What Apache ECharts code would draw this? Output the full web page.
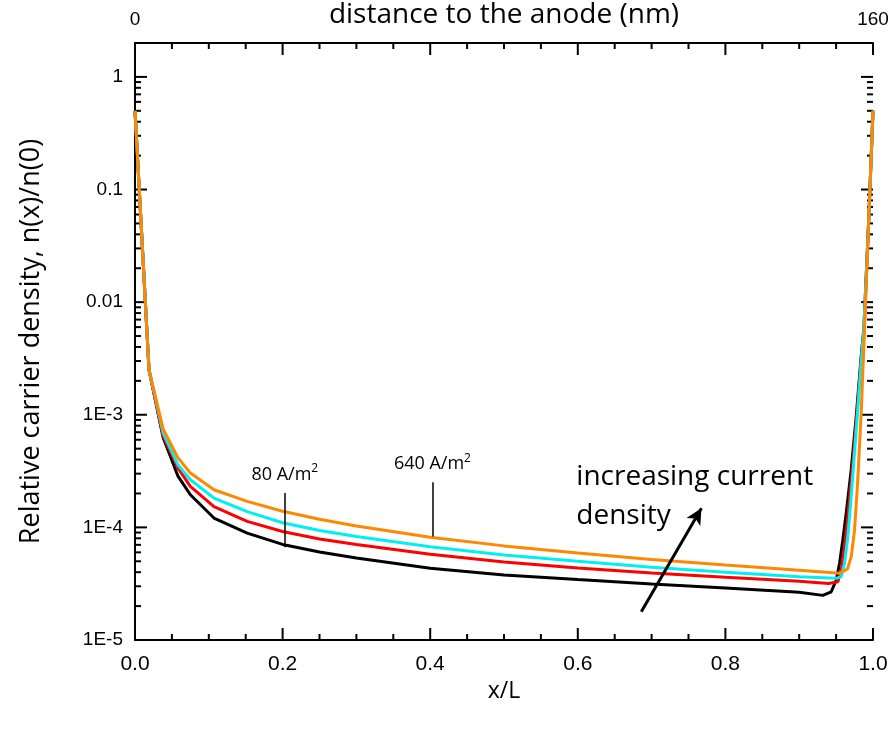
<!DOCTYPE html>
<html>
<head>
<meta charset="utf-8">
<script src="https://cdn.jsdelivr.net/npm/echarts@6/dist/echarts.min.js"></script>
<style>
  html, body { margin: 0; padding: 0; background: #fff; }
  #chart { width: 894px; height: 729px; }
</style>
</head>
<body>
<div id="chart"></div>
<script>
// shared x/L samples along the left part and the flat middle part
const xCommon = [0, 0.019, 0.038, 0.058, 0.075, 0.107, 0.152, 0.2, 0.25, 0.3, 0.4, 0.5, 0.6, 0.7, 0.8, 0.9];

// 80 A/m2 (black)
const xBlack = xCommon.concat([0.932, 0.9434, 0.9502, 0.9547, 0.9591, 0.9637, 0.9705, 0.9773, 0.984, 0.9875, 0.9945, 1.0]);
const yBlack = [0.5, 2.5e-3, 6.33e-4, 2.87e-4, 1.95e-4, 1.21e-4, 8.88e-5, 7.06e-5, 6.05e-5, 5.35e-5, 4.33e-5, 3.77e-5, 3.44e-5, 3.14e-5, 2.89e-5, 2.65e-5,
  2.49e-5, 2.68e-5, 3.41e-5, 4.8e-5, 7.74e-5, 1.34e-4, 3.25e-4, 9.7e-4, 3.32e-3, 5.7e-3, 0.06, 0.5];

// red
const xRed = xCommon.concat([0.94, 0.9524, 0.957, 0.9614, 0.9659, 0.9727, 0.9794, 0.9854, 0.988, 0.9945, 1.0]);
const yRed = [0.5, 2.5e-3, 6.53e-4, 3.39e-4, 2.31e-4, 1.53e-4, 1.13e-4, 9.2e-5, 7.9e-5, 7.06e-5, 5.77e-5, 4.93e-5, 4.36e-5, 3.93e-5, 3.6e-5, 3.32e-5,
  3.17e-5, 3.29e-5, 4.19e-5, 6.75e-5, 1.25e-4, 3.73e-4, 1.28e-3, 4.07e-3, 5.7e-3, 0.06, 0.5];

// cyan
const xCyan = xCommon.concat([0.95, 0.957, 0.9614, 0.9659, 0.9705, 0.9773, 0.984, 0.9875, 0.9945, 1.0]);
const yCyan = [0.5, 2.5e-3, 6.95e-4, 3.6e-4, 2.65e-4, 1.82e-4, 1.38e-4, 1.1e-4, 9.4e-5, 8.31e-5, 6.73e-5, 5.69e-5, 5.01e-5, 4.43e-5, 4.0e-5, 3.64e-5,
  3.53e-5, 3.65e-5, 4.8e-5, 8.28e-5, 1.88e-4, 7.38e-4, 2.9e-3, 5.7e-3, 0.06, 0.5];

// 640 A/m2 (orange)
const xOrange = xCommon.concat([0.955, 0.9654, 0.9705, 0.975, 0.9794, 0.984, 0.9885, 0.9945, 1.0]);
const yOrange = [0.5, 2.5e-3, 7.53e-4, 4.16e-4, 3.04e-4, 2.16e-4, 1.7e-4, 1.39e-4, 1.18e-4, 1.03e-4, 8.18e-5, 6.85e-5, 5.93e-5, 5.19e-5, 4.63e-5, 4.16e-5,
  3.92e-5, 4.27e-5, 5.5e-5, 9.5e-5, 2.65e-4, 1.04e-3, 5.7e-3, 0.06, 0.5];

// axis ticks
const xMajorTicks = [0, 0.2, 0.4, 0.6, 0.8, 1.0];
const xMinorTicks = [0.05, 0.1, 0.15, 0.25, 0.3, 0.35, 0.45, 0.5, 0.55, 0.65, 0.7, 0.75, 0.85, 0.9, 0.95];
const yMajorTicks = [1e-5, 1e-4, 1e-3, 0.01, 0.1, 1];
const yTickLabels = ['1E-5', '1E-4', '1E-3', '0.01', '0.1', '1'];
const yMinorTicks = [];
[1e-5, 1e-4, 1e-3, 1e-2, 1e-1].forEach(function (d) {
  for (let k = 2; k <= 9; k++) yMinorTicks.push(+(k * d).toPrecision(3));
});

// annotations
const label80 = { x: 0.203, y0: 6.67e-5, y1: 2.02e-4 };
const label640 = { x: 0.403, y0: 8.28e-5, y1: 2.51e-4 };
const arrowFrom = [0.686, 1.78e-5];
const arrowTo = [0.7675, 1.48e-4];
const textAt = [0.598, 1.88e-4];

const X_MIN = 0, X_MAX = 1, Y_MIN = 1e-5, Y_MAX = 2;

const FONT = '"Open Sans", "Noto Sans", sans-serif';
const NUMFONT = '"Liberation Sans", Arial, sans-serif';
const NARROW = '"Liberation Sans Narrow", "Arial Narrow", "Liberation Sans", sans-serif';

function pairs(xs, ys) {
  return xs.map(function (x, i) { return [x, ys[i]]; });
}

function yLabel(v) {
  for (let i = 0; i < yMajorTicks.length; i++) {
    if (Math.abs(Math.log10(v) - Math.log10(yMajorTicks[i])) < 1e-6) return yTickLabels[i];
  }
  return '';
}

const chart = echarts.init(document.getElementById('chart'));

function axisLine() { return { show: true, lineStyle: { color: '#000', width: 2 } }; }

const tickStyle = { stroke: '#000', lineWidth: 2 };

// inward ticks on both sides of the frame, placed through the axis scales
function xTickItem(params, api) {
  const v = api.value(0);
  const len = xMajorTicks.indexOf(v) >= 0 ? 12 : 6;
  const b = api.coord([v, Y_MIN]);
  const t = api.coord([v, Y_MAX]);
  return {
    type: 'group',
    children: [
      { type: 'line', shape: { x1: b[0], y1: b[1], x2: b[0], y2: b[1] - len }, style: tickStyle },
      { type: 'line', shape: { x1: t[0], y1: t[1], x2: t[0], y2: t[1] + len }, style: tickStyle }
    ]
  };
}

function yTickItem(params, api) {
  const v = api.value(1);
  const len = yMajorTicks.indexOf(v) >= 0 ? 12 : 6;
  const l = api.coord([X_MIN, v]);
  const r = api.coord([X_MAX, v]);
  return {
    type: 'group',
    children: [
      { type: 'line', shape: { x1: l[0], y1: l[1], x2: l[0] + len, y2: l[1] }, style: tickStyle },
      { type: 'line', shape: { x1: r[0], y1: r[1], x2: r[0] - len, y2: r[1] }, style: tickStyle }
    ]
  };
}

const lineSeries = function (name, color, data, extra) {
  return Object.assign({
    name: name,
    type: 'line',
    data: data,
    showSymbol: false,
    symbol: 'none',
    lineStyle: { color: color, width: 3 },
    itemStyle: { color: color },
    silent: true
  }, extra || {});
};

const supRich = {
  n: { fontFamily: FONT, fontSize: 18, color: '#000' },
  s: { fontFamily: FONT, fontSize: 12, color: '#000', verticalAlign: 'top', padding: [0, 0, 12, 0] }
};

const options = {
  animation: false,
  grid: { left: 135, right: 21, top: 43, bottom: 89, outerBoundsMode: 'none' },
  xAxis: [
    {
      type: 'value', position: 'bottom', min: X_MIN, max: X_MAX,
      axisLine: axisLine(), splitLine: { show: false }, axisTick: { show: false },
      name: 'x/L', nameLocation: 'middle', nameGap: 40, nameMoveOverlap: false,
      nameTextStyle: { fontFamily: FONT, fontSize: 23, color: '#000' },
      axisLabel: {
        show: true, customValues: xMajorTicks, formatter: function (v) { return v.toFixed(1); },
        fontFamily: NARROW, fontSize: 21, color: '#000', margin: 14
      }
    },
    {
      type: 'value', position: 'top', min: X_MIN, max: X_MAX,
      axisLine: axisLine(), splitLine: { show: false }, axisTick: { show: false },
      name: 'distance to the anode (nm)', nameLocation: 'middle', nameGap: 14, nameMoveOverlap: false,
      nameTextStyle: { fontFamily: FONT, fontSize: 28, color: '#000' },
      axisLabel: {
        show: true, customValues: [0, 1],
        formatter: function (v) { return v === 0 ? '0' : '160'; },
        fontFamily: NUMFONT, fontSize: 19, color: '#000', margin: 14
      }
    }
  ],
  yAxis: [
    {
      type: 'log', position: 'left', min: Y_MIN, max: Y_MAX,
      axisLine: axisLine(), splitLine: { show: false }, axisTick: { show: false },
      name: 'Relative carrier density, n(x)/n(0)', nameLocation: 'middle', nameGap: 90, nameMoveOverlap: false,
      nameTextStyle: { fontFamily: FONT, fontSize: 27, color: '#000' },
      axisLabel: {
        show: true, customValues: yMajorTicks, formatter: yLabel,
        fontFamily: NUMFONT, fontSize: 19, color: '#000', margin: 12
      }
    },
    {
      type: 'log', position: 'right', min: Y_MIN, max: Y_MAX,
      axisLine: axisLine(), splitLine: { show: false }, axisTick: { show: false },
      axisLabel: { show: false }
    }
  ],
  series: [
    lineSeries('80 A/m2', '#000000', pairs(xBlack, yBlack), {
      markLine: {
        silent: true, symbol: 'none',
        lineStyle: { color: '#000', width: 1.5, type: 'solid' },
        label: { show: true, position: 'end', distance: 6, formatter: '{n|80 A/m}{s|2}', rich: supRich },
        data: [[{ coord: [label80.x, label80.y0] }, { coord: [label80.x, label80.y1] }]]
      }
    }),
    lineSeries('red', '#ff0000', pairs(xRed, yRed)),
    lineSeries('cyan', '#00f0f0', pairs(xCyan, yCyan)),
    lineSeries('640 A/m2', '#ff8800', pairs(xOrange, yOrange), {
      markLine: {
        silent: true,
        data: [
          [{
            coord: [label640.x, label640.y0], symbol: 'none',
            lineStyle: { color: '#000', width: 1.5, type: 'solid' },
            label: { show: true, position: 'end', distance: 6, formatter: '{n|640 A/m}{s|2}', rich: supRich }
          }, { coord: [label640.x, label640.y1], symbol: 'none' }],
          [{
            coord: arrowFrom, symbol: 'none',
            lineStyle: { color: '#000', width: 3, type: 'solid' },
            label: { show: false }
          }, { coord: arrowTo, symbol: 'arrow', symbolSize: [12, 16] }]
        ]
      },
      markPoint: {
        silent: true,
        symbol: 'circle',
        symbolSize: 0,
        data: [{
          coord: textAt,
          label: {
            show: true, position: 'right', distance: 0, align: 'left',
            formatter: 'increasing current\ndensity',
            fontFamily: FONT, fontSize: 28, lineHeight: 39, color: '#000'
          }
        }]
      }
    }),
    {
      type: 'custom', name: 'xticks', silent: true, clip: false,
      renderItem: xTickItem,
      data: xMajorTicks.concat(xMinorTicks).map(function (v) { return [v, Y_MIN]; })
    },
    {
      type: 'custom', name: 'yticks', silent: true, clip: false,
      renderItem: yTickItem,
      data: yMajorTicks.concat(yMinorTicks).map(function (v) { return [X_MIN, v]; })
    }
  ]
};

chart.setOption(options, true);
</script>
</body>
</html>
